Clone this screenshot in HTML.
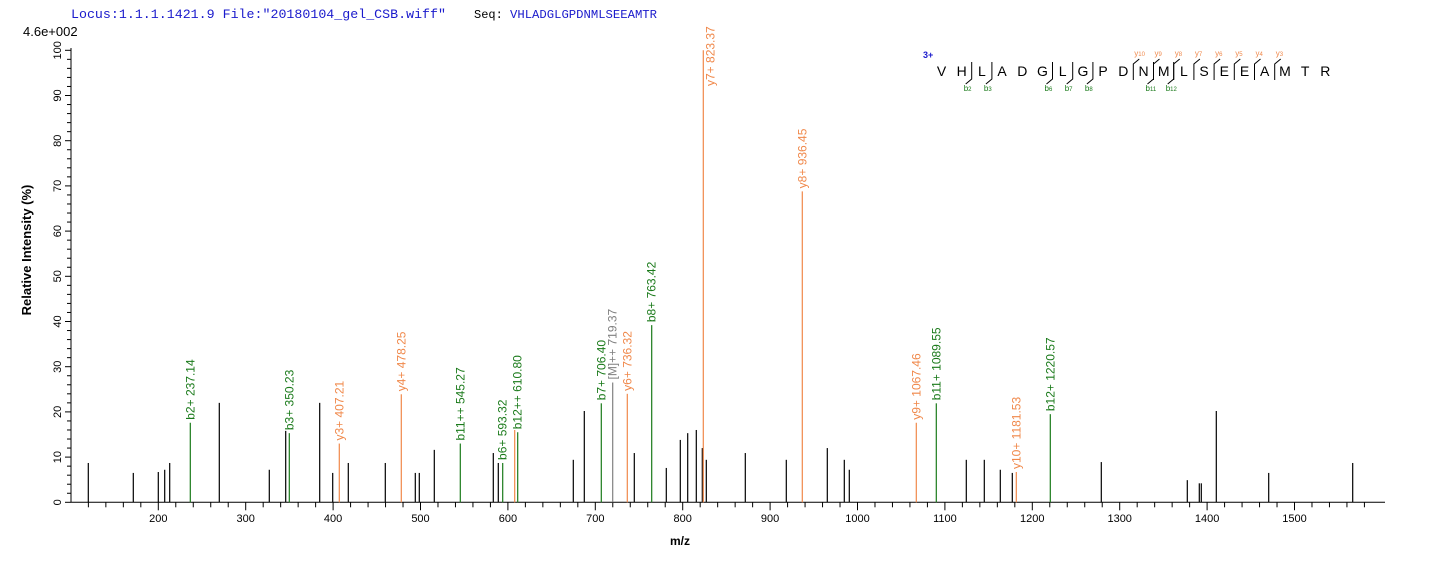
<!DOCTYPE html>
<html><head><meta charset="utf-8"><style>
body{margin:0;background:#fff;width:1436px;height:562px;overflow:hidden}
svg{display:block}
text{font-family:"Liberation Sans",Arial,sans-serif}
</style></head><body>
<svg id="s" width="1436" height="562" xmlns="http://www.w3.org/2000/svg">
<text x="71" y="18" font-size="13" fill="#1a1acc" textLength="375" lengthAdjust="spacingAndGlyphs" style="font-family:'Liberation Mono',monospace">Locus:1.1.1.1421.9 File:"20180104_gel_CSB.wiff"</text>
<text x="474" y="18" font-size="12" fill="#000" style="font-family:'Liberation Mono',monospace">Seq:</text>
<text x="510" y="18" font-size="12" fill="#1a1acc" textLength="147" lengthAdjust="spacingAndGlyphs" style="font-family:'Liberation Mono',monospace">VHLADGLGPDNMLSEEAMTR</text>
<text x="23" y="36" font-size="13">4.6e+002</text>
<text transform="translate(31,250) rotate(-90)" text-anchor="middle" font-size="13" font-weight="bold">Relative   Intensity (%)</text>
<text x="680" y="545" text-anchor="middle" font-size="12" font-weight="bold">m/z</text>
<text x="923" y="58" font-size="9" font-weight="bold" fill="#1a1acc">3+</text>
<g id="g"></g>
</svg>
<script>
var g=document.getElementById('g'),h='';
var B=502.3,S=4.52;
h+='<line x1="71" y1="'+B+'" x2="1385" y2="'+B+'" stroke="#000"/>';
h+='<line x1="71" y1="48" x2="71" y2="'+B+'" stroke="#000"/>';
for(var v=0;v<=100;v+=2){var y=B-v*S;var mj=v%10==0;h+='<line x1="'+(mj?65:67)+'" y1="'+y+'" x2="71" y2="'+y+'" stroke="#000"/>';
if(mj)h+='<text transform="translate(61,'+y+') rotate(-90)" text-anchor="middle" font-size="11">'+v+'</text>';}
function X(m){return 158.3+(m-200)*0.874;}
for(var m=100;m<=1580;m+=20){var x=X(m);if(x<71)continue;var mj=m%100==0;h+='<line x1="'+x+'" y1="'+B+'" x2="'+x+'" y2="'+(B+(mj?8:5))+'" stroke="#000"/>';
if(mj&&m>=200)h+='<text x="'+x+'" y="522" text-anchor="middle" font-size="11">'+m+'</text>';}
var blk=[[88.3,8.7],[133.3,6.5],[158.3,6.7],[164.7,7.2],[169.7,8.7],[219.3,22],[269.3,7.2],[285.7,15.8],[319.7,22],[332.7,6.5],[348.3,8.7],[385.3,8.7],[415.3,6.5],[419.3,6.5],[434.3,11.6],[493.3,10.9],[498.3,8.7],[573.3,9.4],[584.3,20.2],[634.3,10.9],[666.3,7.6],[680.3,13.8],[687.7,15.3],[696.3,16],[702.3,12],[706.3,9.4],[745.3,10.9],[786.3,9.4],[827.3,12],[844.3,9.4],[849.3,7.2],[966.3,9.4],[984.3,9.4],[1000.3,7.2],[1012.3,6.5],[1101.3,8.9],[1187.3,4.9],[1199.3,4.2],[1201.3,4.2],[1216.3,20.2],[1268.7,6.5],[1352.7,8.7]];
blk.forEach(function(p){h+='<line x1="'+p[0]+'" y1="'+B+'" x2="'+p[0]+'" y2="'+(B-p[1]*S)+'" stroke="#000" stroke-width="1.2"/>';});
var G='#1a7a1a',O='#f0884a',Gr='#808080';
var ann=[[190.3,17.6,G,'b2+ 237.14'],[289.3,15.3,G,'b3+ 350.23'],[339.3,13,O,'y3+ 407.21'],[401.3,23.9,O,'y4+ 478.25'],[460.3,13,G,'b11++ 545.27'],[502.7,8.7,G,'b6+ 593.32'],[514.7,16,O,''],[517.7,15.5,G,'b12++ 610.80'],[601.3,21.9,G,'b7+ 706.40'],[612.7,26.5,Gr,'[M]++ 719.37'],[627.3,24,O,'y6+ 736.32'],[651.7,39.2,G,'b8+ 763.42'],[703.3,100,O,'y7+ 823.37'],[802.3,68.8,O,'y8+ 936.45'],[916.3,17.6,O,'y9+ 1067.46'],[936.3,21.9,G,'b11+ 1089.55'],[1016.3,6.7,O,'y10+ 1181.53'],[1050.3,19.5,G,'b12+ 1220.57']];
ann.forEach(function(a){var t=B-a[1]*S;h+='<line x1="'+a[0]+'" y1="'+B+'" x2="'+a[0]+'" y2="'+t+'" stroke="'+a[2]+'" stroke-width="1.2"/>';
if(a[1]==100){h+='<text transform="translate('+(a[0]+11)+',86) rotate(-90)" font-size="12" fill="'+a[2]+'">'+a[3]+'</text>';}
else if(a[3])h+='<text transform="translate('+(a[0]+4)+','+(t-3)+') rotate(-90)" font-size="12" fill="'+a[2]+'">'+a[3]+'</text>';});
var seq='VHLADGLGPDNMLSEEAMTR';
for(var i=0;i<20;i++)h+='<text x="'+(941.5+20.2*i)+'" y="76" text-anchor="middle" font-size="14">'+seq[i]+'</text>';
function bx(k){return 941.5+20.2*(k-1)+10;}
[2,3,6,7,8,11,12].forEach(function(k){var x=bx(k);h+='<polyline points="'+x+',62 '+x+',79 '+(x-6)+',84" fill="none" stroke="#000"/>';
h+='<text x="'+(x-8)+'" y="91" font-size="8" fill="'+G+'">b<tspan font-size="6">'+k+'</tspan></text>';});
[10,9,8,7,6,5,4,3].forEach(function(k){var x=bx(20-k);h+='<polyline points="'+x+',80 '+x+',64 '+(x+6)+',59" fill="none" stroke="#000"/>';
h+='<text x="'+(x+1)+'" y="56" font-size="8" fill="'+O+'">y<tspan font-size="6">'+k+'</tspan></text>';});
g.innerHTML=h;
</script>
</body></html>
